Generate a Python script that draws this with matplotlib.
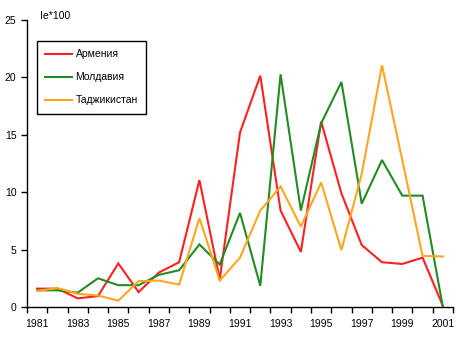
import numpy as np
import matplotlib
matplotlib.use("Agg")
from matplotlib import pyplot as plt

plt.rcParams['font.family'] = ['Liberation Sans', 'DejaVu Sans']

years = list(range(1981, 2002))
armenia = [1.6, 1.6, 0.75, 0.95, 3.8, 1.3, 3.0, 3.9, 11.05, 2.4, 15.2,
           20.15, 8.4, 4.8, 16.15, 9.9, 5.4, 3.9, 3.75, 4.3, 0.1]
moldavia = [1.45, 1.45, 1.25, 2.5, 1.9, 1.9, 2.8, 3.2, 5.45, 3.7, 8.2,
            1.85, 20.27, 8.4, 16.0, 19.6, 9.0, 12.8, 9.7, 9.7, 0.0]
tajik = [1.4, 1.65, 1.15, 1.0, 0.55, 2.25, 2.3, 1.95, 7.75, 2.3, 4.3,
         8.4, 10.5, 7.0, 10.85, 4.95, 11.6, 21.05, 12.8, 4.45, 4.4]
names = ["Армения", "Молдавия", "Таджикистан"]
colors = ["#FF2020", "#228B22", "#FFA520"]
yticks = [0, 5, 10, 15, 20, 25]

W, H = 458, 339
fig = plt.figure(figsize=(W / 100, H / 100), dpi=100)
ax = fig.add_axes([27 / W, 32 / H, 426 / W, 287 / H])

x = np.arange(len(years))
for vals, name, col in zip([armenia, moldavia, tajik], names, colors):
    ax.plot(x, vals, color=col, lw=1.5, label=name, solid_joinstyle="miter")

ax.set_xlim(-0.5, len(years) - 0.5)
ax.set_ylim(0, 25)
ax.set_yticks(yticks)
ax.tick_params(axis="y", length=4, width=1, pad=3.6, labelsize=7.5, direction="out")

# tick marks sit between categories, labels on every second category
ax.set_xticks(np.arange(-0.5, len(years), 1.0))
ax.set_xticklabels([])
ax.tick_params(axis="x", which="major", length=4, width=1, direction="out")
ax.set_xticks(x[::2], minor=True)
ax.set_xticklabels([str(y) for y in years[::2]], minor=True)
ax.tick_params(axis="x", which="minor", length=0, pad=8.6, labelsize=7.5)

for side in ["top", "right"]:
    ax.spines[side].set_visible(False)
for side in ["left", "bottom"]:
    ax.spines[side].set_linewidth(1)
    ax.spines[side].set_color("black")

fig.text(40 / W, 1 - 16 / H, "Ie*100", fontsize=7.5, va="center", ha="left")

leg = ax.legend(loc="upper left", bbox_to_anchor=((37 - 27) / 426, (307 - 41) / 287),
                borderaxespad=0, fancybox=False, framealpha=1, edgecolor="black",
                fontsize=7.5, handlelength=2.6, handletextpad=0.3,
                labelspacing=1.25, borderpad=0.8)
leg.get_frame().set_linewidth(1)

fig.savefig("out.png", dpi=100)
